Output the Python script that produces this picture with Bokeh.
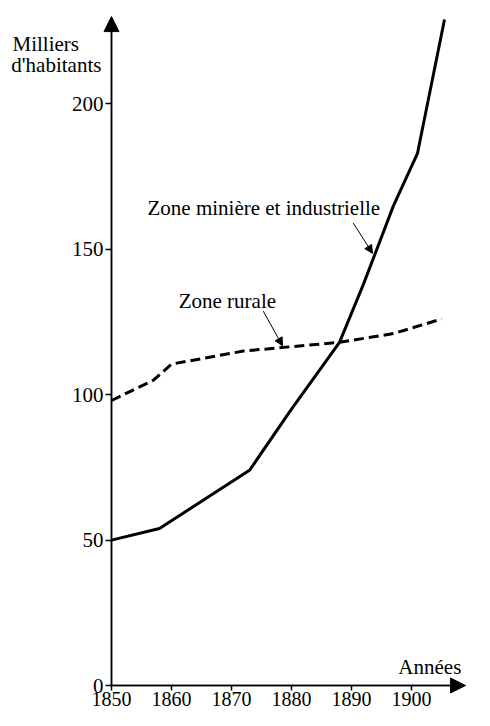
from bokeh.plotting import figure
from bokeh.models import Arrow, NormalHead, Label, FixedTicker, Range1d
from bokeh.embed import file_html
from bokeh.resources import INLINE

# Data
years_ind = [1850, 1858, 1873, 1880, 1888, 1892, 1897, 1901, 1905.5]
pop_ind = [50, 54, 74, 95, 118, 138, 165, 183, 229]
years_rur = [1850, 1857, 1860, 1872, 1888, 1897, 1905]
pop_rur = [98, 105, 110.5, 115, 118, 121, 126]
x_ticks = [1850, 1860, 1870, 1880, 1890, 1900]
y_ticks = [0, 50, 100, 150, 200]

FONT = "Liberation Serif"
FS = "21px"

W, H = 474, 710
X0 = 111          # canvas pixel of year 1850
PX = 6.0          # pixels per year
Y0 = 685          # canvas pixel of value 0
S = (Y0 - 19) / 229.0
p = figure(width=W, height=H, output_backend="svg", toolbar_location=None,
           x_range=Range1d(1850 - X0 / PX, 1850 + (W - X0) / PX),
           y_range=Range1d(-(H - Y0) / S, Y0 / S),
           min_border=0)
p.outline_line_color = None
p.grid.visible = False
p.background_fill_color = "white"
p.border_fill_color = "white"

for ax in (p.xaxis[0], p.yaxis[0]):
    ax.axis_line_color = "black"
    ax.axis_line_width = 1.5
    ax.major_tick_line_color = "black"
    ax.major_tick_line_width = 1.5
    ax.major_tick_in = 0
    ax.minor_tick_line_color = None
    ax.major_label_text_font = FONT
    ax.major_label_text_font_size = FS
    ax.major_label_text_color = "black"

p.xaxis[0].ticker = FixedTicker(ticks=x_ticks)
p.xaxis[0].major_tick_out = 5
p.xaxis[0].major_label_standoff = 1
p.xaxis[0].major_label_text_font_size = "20px"
p.xaxis[0].fixed_location = 0
p.xaxis[0].bounds = (1850, 1907)
p.yaxis[0].ticker = FixedTicker(ticks=y_ticks)
p.yaxis[0].major_tick_out = 6
p.yaxis[0].major_label_standoff = 2
p.yaxis[0].fixed_location = 1850
p.yaxis[0].bounds = (0, 226)

# Curves
p.line(years_ind, pop_ind, line_color="black", line_width=3)
p.line(years_rur, pop_rur, line_color="black", line_width=3, line_dash="10 5")

# Axis arrowheads
p.add_layout(Arrow(end=NormalHead(size=15, fill_color="black", line_color="black"),
                   x_start=1850, y_start=0, x_end=1909, y_end=0,
                   line_color="black", line_width=1.5))
p.add_layout(Arrow(end=NormalHead(size=15, fill_color="black", line_color="black"),
                   x_start=1850, y_start=0, x_end=1850, y_end=230,
                   line_color="black", line_width=1.5))

# Annotation arrows
p.add_layout(Arrow(end=NormalHead(size=8, fill_color="black", line_color="black"),
                   x_start=1890.3, y_start=159, x_end=1893.5, y_end=148.6,
                   line_color="black", line_width=1))
p.add_layout(Arrow(end=NormalHead(size=8, fill_color="black", line_color="black"),
                   x_start=1875.3, y_start=128.7, x_end=1878.5, y_end=116.8,
                   line_color="black", line_width=1))

def lab(x, y, t, align="left"):
    p.add_layout(Label(x=x, y=y, text=t, text_font=FONT, text_font_size=FS,
                       text_color="black", text_baseline="middle", text_align=align))

lab(1856.0, 164.2, "Zone minière et industrielle")
lab(1861.2, 132.1, "Zone rurale")
lab(1833.5, 220.6, "Milliers")
lab(1833.3, 213.2, "d'habitants")
lab(1908.3, 6.5, "Années", align="right")

open("out.html", "w").write(file_html(p, INLINE))
